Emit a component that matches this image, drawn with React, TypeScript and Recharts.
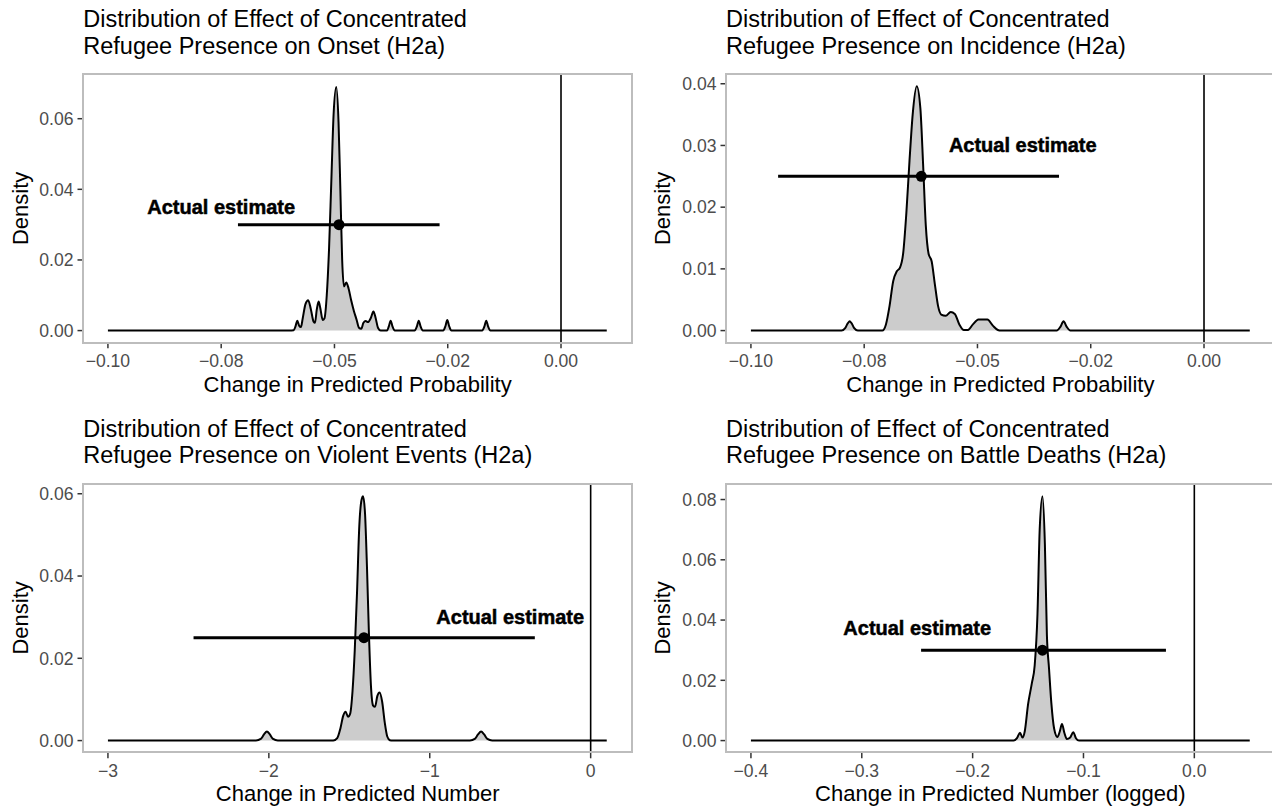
import React from 'react';
import { ComposedChart, Area, XAxis, YAxis, ReferenceLine, Scatter } from 'recharts';

const FONT = '"Liberation Sans", Arial, Helvetica, sans-serif';

// ---- Onset (top left) ----
const onsetX = [
  -0.1, -0.06, -0.059, -0.0586, -0.0582, -0.0578, -0.0574, -0.057, -0.0564, -0.0558, -0.0552, -0.0546,
  -0.0543, -0.0539, -0.0535, -0.0531, -0.0526, -0.0522, -0.0517, -0.0512, -0.0507, -0.0502, -0.0496,
  -0.0491, -0.0487, -0.0483, -0.0479, -0.0474, -0.0469, -0.0463, -0.0457, -0.0451, -0.0446, -0.0441,
  -0.0436, -0.0431, -0.0426, -0.042, -0.0414, -0.0409, -0.0404, -0.0398, -0.0384, -0.038, -0.0376,
  -0.0372, -0.0367, -0.0323, -0.0318, -0.0314, -0.031, -0.0305, -0.026, -0.0255, -0.0251, -0.0247,
  -0.0242, -0.0174, -0.0169, -0.0165, -0.0161, -0.0156, 0.0101,
];
const onsetDensity = [
  0, 0, 0.0001, 0.0012, 0.0028, 0.0014, 0.001, 0.0035, 0.0075, 0.0086, 0.006, 0.0025,
  0.0022, 0.006, 0.0082, 0.0062, 0.003, 0.0035, 0.01, 0.023, 0.042, 0.061, 0.069,
  0.059, 0.04, 0.02, 0.0125, 0.0136, 0.012, 0.0085, 0.0055, 0.003, 0.0008, 0.0005,
  0.0022, 0.0027, 0.0024, 0.0035, 0.0054, 0.0035, 0.0008, 0, 0, 0.0012, 0.0028,
  0.0012, 0, 0, 0.0012, 0.0028, 0.0012, 0, 0, 0.0013, 0.003, 0.0013,
  0, 0, 0.0012, 0.0028, 0.0012, 0, 0,
];

// ---- Incidence (top right) ----
const incidenceX = [
  -0.1, -0.08, -0.0792, -0.0786, -0.0782, -0.0778, -0.0772, -0.0764, -0.071, -0.0702, -0.0694,
  -0.0686, -0.0678, -0.0671, -0.0664, -0.0657, -0.065, -0.0643, -0.0634, -0.0626, -0.062, -0.0614,
  -0.0608, -0.0601, -0.0594, -0.0587, -0.058, -0.057, -0.0559, -0.055, -0.054, -0.053, -0.0521,
  -0.051, -0.0498, -0.0478, -0.0466, -0.0455, -0.0448, -0.0325, -0.0317, -0.031, -0.0303, -0.0295,
  0.0101,
];
const incidenceDensity = [
  0, 0, 0.0004, 0.0012, 0.0015, 0.0012, 0.0004, 0, 0, 0.001, 0.004,
  0.008, 0.0096, 0.0102, 0.0125, 0.019, 0.0275, 0.035, 0.0396, 0.036, 0.027, 0.017,
  0.0125, 0.0112, 0.0075, 0.004, 0.0026, 0.0024, 0.003, 0.0027, 0.001, 0.0001, 0.0001,
  0.001, 0.0018, 0.0018, 0.0008, 0.0001, 0, 0, 0.0006, 0.0015, 0.0006, 0,
  0,
];

// ---- Violent events (bottom left) ----
const eventsX = [
  -3, -2.08, -2.05, -2.03, -2.012, -1.994, -1.974, -1.944, -1.6, -1.575, -1.555, -1.538, -1.523,
  -1.508, -1.495, -1.48, -1.466, -1.452, -1.438, -1.424, -1.414, -1.402, -1.39, -1.378, -1.365,
  -1.352, -1.34, -1.326, -1.312, -1.296, -1.28, -1.264, -1.248, -1.23, -0.75, -0.72, -0.7, -0.681,
  -0.662, -0.642, -0.612, 0.1,
];
const eventsDensity = [
  0, 0, 0.0004, 0.0015, 0.0022, 0.0015, 0.0004, 0, 0, 0.0006, 0.003, 0.006, 0.007,
  0.0058, 0.0065, 0.012, 0.022, 0.036, 0.052, 0.0585, 0.0594, 0.055, 0.042, 0.026, 0.013,
  0.0085, 0.0082, 0.0108, 0.0117, 0.0095, 0.0045, 0.001, 0.0001, 0, 0, 0.0004, 0.0015, 0.0022,
  0.0015, 0.0004, 0, 0,
];

// ---- Battle deaths (bottom right) ----
const deathsX = [
  -0.4, -0.163, -0.16, -0.1573, -0.155, -0.153, -0.15, -0.1466, -0.144, -0.1415, -0.1395, -0.137,
  -0.1348, -0.133, -0.1311, -0.129, -0.1265, -0.1235, -0.1214, -0.1194, -0.1172, -0.115, -0.112,
  -0.1092, -0.1068, -0.104, 0.05,
];
const deathsDensity = [
  0, 0, 0.0008, 0.0026, 0.001, 0.003, 0.012, 0.019, 0.025, 0.042, 0.07, 0.0811,
  0.065, 0.035, 0.024, 0.0125, 0.004, 0.0012, 0.003, 0.0055, 0.0025, 0.0005, 0.001,
  0.0028, 0.0008, 0, 0,
];

// estimate: [point, lower, upper, height]; label: [x, y]
const onsetEstimate = [-0.049, -0.0713, -0.0268, 0.03];
const onsetLabel = [-0.075, 0.035];
const incidenceEstimate = [-0.0624, -0.094, -0.032, 0.025];
const incidenceLabel = [-0.04, 0.03];
const eventsEstimate = [-1.409, -2.468, -0.347, 0.025];
const eventsLabel = [-0.5, 0.03];
const deathsEstimate = [-0.137, -0.2465, -0.0256, 0.03];
const deathsLabel = [-0.25, 0.0375];

const probTicks = [-0.1, -0.075, -0.05, -0.025, 0];
const probTickLabels = ['\u22120.10', '\u22120.08', '\u22120.05', '\u22120.02', '0.00'];
const eventsTicks = [-3, -2, -1, 0];
const eventsTickLabels = ['\u22123', '\u22122', '\u22121', '0'];
const deathsTicks = [-0.4, -0.3, -0.2, -0.1, 0];
const deathsTickLabels = ['\u22120.4', '\u22120.3', '\u22120.2', '\u22120.1', '0.0'];

const onsetYTicks = [0, 0.02, 0.04, 0.06];
const incidenceYTicks = [0, 0.01, 0.02, 0.03, 0.04];
const eventsYTicks = [0, 0.02, 0.04, 0.06];
const deathsYTicks = [0, 0.02, 0.04, 0.06, 0.08];

// layout
const PLOT_W = 548.7;
const PLOT_H = 268.8;
const Y_AXIS_W = 60;
const TOP_PAD = 6;
const RIGHT_PAD = 4;
const X_AXIS_H = 40;
const COL_LEFT = [83.3, 726];
const ROW_TOP = [74, 483.5];

type PanelProps = {
  left: number;
  top: number;
  xs: number[];
  ds: number[];
  xDomain: [number, number];
  yDomain: [number, number];
  xTicks: number[];
  xTickLabels: string[];
  yTicks: number[];
  estimate: number[];
  label: number[];
};

function DensityPanel({ left, top, xs, ds, xDomain, yDomain, xTicks, xTickLabels, yTicks, estimate, label }: PanelProps) {
  const rows = xs.map((x, i) => ({ x, d: ds[i] }));
  const [est, lo, hi, h] = estimate;
  const tickStyle = { fill: '#4D4D4D', fontSize: 17.6, fontFamily: FONT };
  return (
    <>
      <div style={{ position: 'absolute', left: left - Y_AXIS_W, top: top - TOP_PAD }}>
        <ComposedChart
          width={Y_AXIS_W + PLOT_W + RIGHT_PAD}
          height={TOP_PAD + PLOT_H + X_AXIS_H}
          data={rows}
          margin={{ top: TOP_PAD, right: RIGHT_PAD, bottom: 0, left: 0 }}
        >
          <XAxis
            type="number"
            dataKey="x"
            domain={xDomain}
            ticks={xTicks}
            interval={0}
            allowDataOverflow
            height={X_AXIS_H}
            axisLine={false}
            tickSize={5.5}
            tickMargin={6}
            tickLine={{ stroke: '#333333', strokeWidth: 1.5 }}
            tick={tickStyle}
            tickFormatter={(v: number) => {
              const i = xTicks.findIndex((t) => Math.abs(t - v) < 1e-9);
              return i >= 0 ? xTickLabels[i] : String(v);
            }}
          />
          <YAxis
            type="number"
            domain={yDomain}
            ticks={yTicks}
            interval={0}
            allowDataOverflow
            width={Y_AXIS_W}
            axisLine={false}
            tickSize={5.5}
            tickMargin={4}
            tickLine={{ stroke: '#333333', strokeWidth: 1.5 }}
            tick={tickStyle}
            tickFormatter={(v: number) => v.toFixed(2)}
          />
          <Area
            type="monotone"
            dataKey="d"
            stroke="#000000"
            strokeWidth={2}
            fill="#CCCCCC"
            fillOpacity={1}
            baseValue={0}
            dot={false}
            activeDot={false}
            isAnimationActive={false}
          />
          <ReferenceLine x={0} stroke="#000000" strokeWidth={1.6} />
          <ReferenceLine
            segment={[{ x: lo, y: h }, { x: hi, y: h }]}
            stroke="#000000"
            strokeWidth={3}
          />
          <Scatter
            data={[{ x: est, y: h }]}
            dataKey="y"
            isAnimationActive={false}
            shape={(p: any) => <circle cx={p.cx} cy={p.cy} r={5.5} fill="#000000" />}
          />
          <Scatter
            data={[{ x: label[0], y: label[1] }]}
            dataKey="y"
            isAnimationActive={false}
            shape={(p: any) => (
              <text
                x={p.cx}
                y={p.cy}
                textAnchor="middle"
                dominantBaseline="central"
                fontFamily={FONT}
                fontWeight="bold"
                fontSize={20}
                fill="#000000"
                stroke="#000000"
                strokeWidth={0.5}
              >
                Actual estimate
              </text>
            )}
          />
        </ComposedChart>
      </div>
      <div
        style={{
          position: 'absolute',
          left: left - 1,
          top: top - 1,
          width: PLOT_W + 2,
          height: PLOT_H + 2,
          border: '2px solid #BDBDBD',
          boxSizing: 'border-box',
          pointerEvents: 'none',
        }}
      />
    </>
  );
}

const titles = [
  ['Distribution of Effect of Concentrated', 'Refugee Presence on Onset (H2a)'],
  ['Distribution of Effect of Concentrated', 'Refugee Presence on Incidence (H2a)'],
  ['Distribution of Effect of Concentrated', 'Refugee Presence on Violent Events (H2a)'],
  ['Distribution of Effect of Concentrated', 'Refugee Presence on Battle Deaths (H2a)'],
];
const xTitles = [
  'Change in Predicted Probability',
  'Change in Predicted Probability',
  'Change in Predicted Number',
  'Change in Predicted Number (logged)',
];

export default function App() {
  const slots = [
    [COL_LEFT[0], ROW_TOP[0]],
    [COL_LEFT[1], ROW_TOP[0]],
    [COL_LEFT[0], ROW_TOP[1]],
    [COL_LEFT[1], ROW_TOP[1]],
  ];
  return (
    <div
      style={{
        position: 'absolute',
        left: 0,
        top: 0,
        width: 1272,
        height: 808,
        overflow: 'hidden',
        background: '#FFFFFF',
        fontFamily: FONT,
      }}
    >
      <DensityPanel
        left={COL_LEFT[0]}
        top={ROW_TOP[0]}
        xs={onsetX}
        ds={onsetDensity}
        xDomain={[-0.1055, 0.0156]}
        yDomain={[-0.00346, 0.07266]}
        xTicks={probTicks}
        xTickLabels={probTickLabels}
        yTicks={onsetYTicks}
        estimate={onsetEstimate}
        label={onsetLabel}
      />
      <DensityPanel
        left={COL_LEFT[1]}
        top={ROW_TOP[0]}
        xs={incidenceX}
        ds={incidenceDensity}
        xDomain={[-0.1055, 0.0156]}
        yDomain={[-0.00198, 0.04158]}
        xTicks={probTicks}
        xTickLabels={probTickLabels}
        yTicks={incidenceYTicks}
        estimate={incidenceEstimate}
        label={incidenceLabel}
      />
      <DensityPanel
        left={COL_LEFT[0]}
        top={ROW_TOP[1]}
        xs={eventsX}
        ds={eventsDensity}
        xDomain={[-3.155, 0.255]}
        yDomain={[-0.00297, 0.06237]}
        xTicks={eventsTicks}
        xTickLabels={eventsTickLabels}
        yTicks={eventsYTicks}
        estimate={eventsEstimate}
        label={eventsLabel}
      />
      <DensityPanel
        left={COL_LEFT[1]}
        top={ROW_TOP[1]}
        xs={deathsX}
        ds={deathsDensity}
        xDomain={[-0.4225, 0.0725]}
        yDomain={[-0.004055, 0.085155]}
        xTicks={deathsTicks}
        xTickLabels={deathsTickLabels}
        yTicks={deathsYTicks}
        estimate={deathsEstimate}
        label={deathsLabel}
      />
      <svg
        width={1272}
        height={808}
        style={{ position: 'absolute', left: 0, top: 0, pointerEvents: 'none' }}
      >
        {slots.map(([l, t], i) => {
          const off = t - ROW_TOP[0];
          return (
            <g key={i} fontFamily={FONT} fill="#000000">
              <text x={l} y={27 + off} fontSize={23.5}>{titles[i][0]}</text>
              <text x={l} y={53.5 + off} fontSize={23.5}>{titles[i][1]}</text>
              <text x={l + PLOT_W / 2} y={391.7 + off} fontSize={22} textAnchor="middle">
                {xTitles[i]}
              </text>
              <text
                transform={`translate(${l - 55.8}, ${t + PLOT_H / 2}) rotate(-90)`}
                fontSize={22}
                textAnchor="middle"
              >
                Density
              </text>
            </g>
          );
        })}
      </svg>
    </div>
  );
}
